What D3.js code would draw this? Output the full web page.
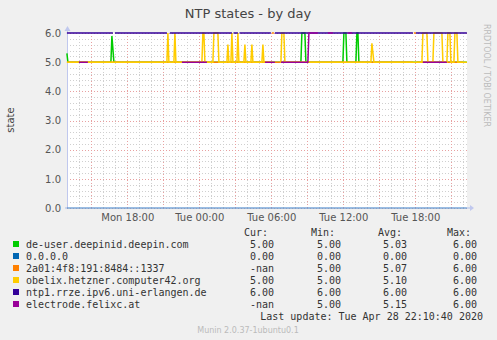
<!DOCTYPE html>
<html>
<head>
<meta charset="utf-8">
<script src="https://cdnjs.cloudflare.com/ajax/libs/d3/7.8.5/d3.min.js"></script>
<style>
  body { margin: 0; background: #f0f0f0; }
  text { font-family: "DejaVu Sans", sans-serif; }
  .mono { font-family: "DejaVu Sans Mono", monospace; font-size: 10px; fill: #333; }
</style>
</head>
<body>
<div id="chart"></div>
<script>
// series: [time "dd HH:MM" (April 2020), value], null = no data
var deUser = [["27 12:58",5.3],["27 13:03",5],["27 16:38",5],["27 16:43",5.9],["27 16:53",5],
  ["28 08:28",5],["28 08:33",6],["28 08:48",6],["28 08:53",5],
  ["28 11:58",5],["28 12:03",6],["28 12:13",6],["28 12:18",5],
  ["28 13:03",5],["28 13:08",6],["28 13:13",6],["28 13:18",5],["28 22:18",5]];
var zero = [["27 12:58",0],["28 22:18",0]];
var ipv6 = [["27 12:58",5],["28 05:58",5],["28 06:00",null],["28 06:03",6],["28 06:13",6],["28 06:15",null],["28 06:18",5],
  ["28 17:48",5],["28 17:50",null],["28 17:53",6],["28 18:03",6],["28 18:05",null],["28 18:08",5],
  ["28 21:58",5],["28 22:03",null]];
var obelix = [["27 12:58",5],["27 21:18",5],["27 21:23",6],["27 21:28",5],
  ["27 21:53",5],["27 21:58",6],["27 22:03",5],
  ["28 00:13",5],["28 00:18",6],["28 00:23",6],["28 00:28",5],
  ["28 01:08",5],["28 01:13",6],["28 01:33",6],["28 01:38",5],
  ["28 02:18",5],["28 02:23",5.6],["28 02:28",5],
  ["28 02:38",5],["28 02:43",6],["28 02:48",5],
  ["28 03:08",5],["28 03:13",6],["28 03:18",5],
  ["28 03:43",5],["28 03:48",5.6],["28 03:53",5],
  ["28 04:18",5],["28 04:23",5.6],["28 04:28",5],
  ["28 05:13",5],["28 05:18",5.6],["28 05:23",5],
  ["28 06:18",5],["28 06:23",null],["28 06:43",5],
  ["28 06:48",5],["28 06:53",6],["28 07:03",6],["28 07:08",5],
  ["28 14:18",5],["28 14:23",5.65],["28 14:33",5],
  ["28 18:33",5],["28 18:38",6],["28 18:58",6],["28 19:03",5],
  ["28 19:28",5],["28 19:33",6],["28 20:13",6],["28 20:18",5],
  ["28 20:38",5],["28 20:43",6],["28 20:53",6],["28 20:58",5],
  ["28 21:13",5],["28 21:18",6],["28 21:28",6],["28 21:33",5],["28 22:18",5]];
var ntp1 = [["27 12:58",6],["27 16:48",6],["27 16:53",null],["27 16:58",6],
  ["27 21:18",6],["27 21:23",null],["27 21:33",6],
  ["28 02:43",6],["28 02:46",null],["28 02:51",6],["28 03:13",6],["28 03:16",null],["28 03:21",6],
  ["28 05:58",6],["28 06:03",null],["28 06:18",6],
  ["28 17:48",6],["28 17:53",null],["28 18:03",6],["28 22:18",6]];
var electrode = [["27 13:58",5],["27 14:43",5],["27 14:48",null],
  ["27 22:33",5],["28 00:38",5],["28 00:43",null],
  ["28 05:28",5],["28 06:18",5],["28 06:23",null],
  ["28 06:48",5],["28 09:03",5],["28 09:08",6],["28 09:53",6],["28 09:58",null],
  ["28 10:43",6],["28 11:08",6],["28 11:13",null],
  ["28 12:23",6],["28 12:43",6],["28 12:48",null],
  ["28 18:38",5],["28 20:38",5],["28 20:43",null]];

var names = ["de-user.deepinid.deepin.com","0.0.0.0","2a01:4f8:191:8484::1337",
  "obelix.hetzner.computer42.org","ntp1.rrze.ipv6.uni-erlangen.de","electrode.felixc.at"];
var colors = ["#00cc00","#0066b3","#ff8000","#ffcc00","#330099","#990099"];
var curVals = ["5.00","0.00","-nan","5.00","6.00","-nan"];
var minVals = ["5.00","0.00","5.00","5.00","6.00","5.00"];
var avgVals = ["5.03","0.00","5.07","5.10","6.00","5.15"];
var maxVals = ["6.00","0.00","6.00","6.00","6.00","6.00"];
var yTicks = [0,1,2,3,4,5,6];

var parse = d3.timeParse("%Y-%m-%d %H:%M");
function t(s){ return parse("2020-04-" + s); }
var allSeries = [deUser, zero, ipv6, obelix, ntp1, electrode];

var svg = d3.select("#chart").append("svg").attr("width", 497).attr("height", 340);
svg.append("rect").attr("width",497).attr("height",340).attr("fill","#f0f0f0");

var x = d3.scaleTime()
    .domain([new Date(2020,3,27,12,58,30), new Date(2020,3,28,22,18,30)])
    .range([67, 467]);
var y = d3.scaleLinear().domain([0, 6]).range([208, 33]);

// plot background
svg.append("rect").attr("x",67).attr("y",33).attr("width",400).attr("height",175).attr("fill","#fff");

// grid
var g = svg.append("g");
g.selectAll(".hm").data(d3.range(0, 6.01, 0.2)).enter().append("line")
  .attr("x1",67).attr("x2",467).attr("y1",function(d){return Math.round(y(d))+0.5}).attr("y2",function(d){return Math.round(y(d))+0.5})
  .attr("stroke", function(d){return Math.abs(d-Math.round(d))<1e-6 ? "#e8a0a0" : "#cfcfcf"})
  .attr("stroke-dasharray","1,2");
g.selectAll(".vm").data(x.ticks(d3.timeHour.every(1))).enter().append("line")
  .attr("y1",33).attr("y2",208).attr("x1",function(d){return Math.round(x(d))+0.5}).attr("x2",function(d){return Math.round(x(d))+0.5})
  .attr("stroke", function(d){return d.getHours()%3==0 ? "#e8a0a0" : "#cfcfcf"})
  .attr("stroke-dasharray","1,2");

// axes lines + arrows
svg.append("line").attr("x1",67.5).attr("x2",67.5).attr("y1",28).attr("y2",208).attr("stroke","#c0c8ee");
svg.append("line").attr("x1",65).attr("x2",470).attr("y1",208).attr("y2",208).attr("stroke","#a8bdea");
svg.append("path").attr("d","M470,205L474,208L470,211Z").attr("fill","#c0c8ee");
svg.append("path").attr("d","M64.5,31L67.5,26L70.5,31Z").attr("fill","#c0c8ee");

// y axis labels
var yAxis = d3.axisLeft(y).tickValues(yTicks).tickFormat(d3.format(".1f")).tickSize(0).tickPadding(0);
var ya = svg.append("g").attr("transform","translate(61,0)").call(yAxis);
ya.select(".domain").remove();
ya.selectAll("text").attr("font-size",10).attr("fill","#555").attr("font-family","DejaVu Sans");

// x axis labels
var xAxis = d3.axisBottom(x).ticks(d3.timeHour.every(6)).tickFormat(d3.timeFormat("%a %H:%M")).tickSize(0).tickPadding(0);
var xa = svg.append("g").attr("transform","translate(0,214)").call(xAxis);
xa.select(".domain").remove();
xa.selectAll("text").attr("font-size",10).attr("fill","#555").attr("font-family","DejaVu Sans");

// lines
var line = d3.line()
  .defined(function(d){return d[1] != null})
  .x(function(d){return x(t(d[0]))})
  .y(function(d){return y(d[1])});
allSeries.forEach(function(s, i){
  svg.append("path").datum(s).attr("d", line).attr("fill","none")
    .attr("stroke", colors[i]).attr("stroke-width", i==1 ? 1 : 1.5)
    .attr("stroke-opacity", i==1 ? 0.55 : 1);
});

// title and labels
svg.append("text").attr("x",248).attr("y",18).attr("text-anchor","middle")
  .attr("font-size",13).attr("fill","#444").text("NTP states - by day");
svg.append("text").attr("transform","translate(14,120) rotate(-90)").attr("text-anchor","middle")
  .attr("font-size",10).attr("fill","#444").text("state");
svg.append("text").attr("transform","translate(484,24) rotate(90)")
  .attr("font-size",8).attr("fill","#bbb").text("RRDTOOL / TOBI OETIKER");

// legend
var heads = [["Cur:",244],["Min:",311],["Avg:",378],["Max:",447]];
heads.forEach(function(h){
  svg.append("text").attr("class","mono").attr("x",h[1]).attr("y",236).text(h[0]);
});
names.forEach(function(n, i){
  var yy = 248 + i*12;
  svg.append("rect").attr("x",13).attr("y",yy-7).attr("width",6).attr("height",6).attr("fill",colors[i]);
  svg.append("text").attr("class","mono").attr("x",26).attr("y",yy).text(n);
  svg.append("text").attr("class","mono").attr("x",274).attr("y",yy).attr("text-anchor","end").text(curVals[i]);
  svg.append("text").attr("class","mono").attr("x",341).attr("y",yy).attr("text-anchor","end").text(minVals[i]);
  svg.append("text").attr("class","mono").attr("x",407).attr("y",yy).attr("text-anchor","end").text(avgVals[i]);
  svg.append("text").attr("class","mono").attr("x",477).attr("y",yy).attr("text-anchor","end").text(maxVals[i]);
});
svg.append("text").attr("class","mono").attr("x",483).attr("y",320).attr("text-anchor","end")
  .text("Last update: Tue Apr 28 22:10:40 2020");
svg.append("text").attr("x",248).attr("y",333).attr("text-anchor","middle")
  .attr("font-size",8).attr("fill","#bbb").text("Munin 2.0.37-1ubuntu0.1");
</script>
</body>
</html>
